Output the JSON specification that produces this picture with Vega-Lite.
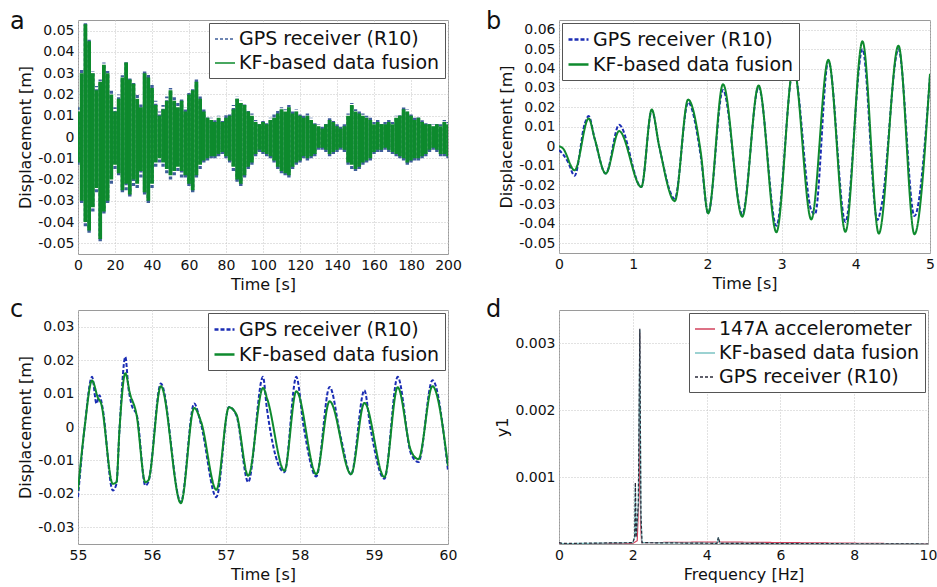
{
"$schema":"https://vega.github.io/schema/vega-lite/v6.json",
"padding":{"left":9,"top":9,"right":0,"bottom":0},
"config":{"font":"DejaVu Sans","view":{"stroke":"#9a9a9a","strokeWidth":1},
"axis":{"grid":true,"gridColor":"#c4c4c4","gridDash":[1,2],"domain":false,"tickSize":0,"labelFontSize":14,"titleFontSize":16,"titleFontWeight":"normal","labelColor":"#111","titleColor":"#111","labelPadding":4,"titlePadding":4,"labelFlush":false,"labelOverlap":false},
"title":{"fontSize":24,"fontWeight":"normal","anchor":"start","frame":"group","baseline":"alphabetic","color":"#111"},
"legend":{"title":null,"fillColor":"white","strokeColor":"#555","padding":5,"rowPadding":3,"labelFontSize":19,"labelColor":"#111","symbolType":"stroke","symbolSize":400,"offset":3,"labelOffset":3,"labelLimit":400}},
"datasets":{
"a":[
{"t":0,"kh":0.012,"kl":-0.012,"gh":0.014,"gl":-0.013},
{"t":2,"kh":0.030,"kl":-0.030,"gh":0.032,"gl":-0.031},
{"t":4,"kh":0.053,"kl":-0.040,"gh":0.054,"gl":-0.042},
{"t":6,"kh":0.045,"kl":-0.044,"gh":0.046,"gl":-0.045},
{"t":8,"kh":0.030,"kl":-0.033,"gh":0.031,"gl":-0.035},
{"t":10,"kh":0.022,"kl":-0.024,"gh":0.024,"gl":-0.026},
{"t":12,"kh":0.026,"kl":-0.048,"gh":0.027,"gl":-0.049},
{"t":14,"kh":0.034,"kl":-0.035,"gh":0.035,"gl":-0.036},
{"t":16,"kh":0.030,"kl":-0.030,"gh":0.031,"gl":-0.031},
{"t":18,"kh":0.020,"kl":-0.020,"gh":0.022,"gl":-0.022},
{"t":20,"kh":0.012,"kl":-0.013,"gh":0.014,"gl":-0.015},
{"t":22,"kh":0.018,"kl":-0.017,"gh":0.020,"gl":-0.018},
{"t":24,"kh":0.028,"kl":-0.025,"gh":0.029,"gl":-0.026},
{"t":26,"kh":0.035,"kl":-0.022,"gh":0.036,"gl":-0.025},
{"t":28,"kh":0.027,"kl":-0.027,"gh":0.028,"gl":-0.028},
{"t":30,"kh":0.025,"kl":-0.020,"gh":0.026,"gl":-0.023},
{"t":32,"kh":0.018,"kl":-0.022,"gh":0.020,"gl":-0.024},
{"t":34,"kh":0.014,"kl":-0.016,"gh":0.016,"gl":-0.019},
{"t":36,"kh":0.030,"kl":-0.026,"gh":0.031,"gl":-0.027},
{"t":38,"kh":0.028,"kl":-0.030,"gh":0.030,"gl":-0.031},
{"t":40,"kh":0.023,"kl":-0.022,"gh":0.025,"gl":-0.024},
{"t":42,"kh":0.015,"kl":-0.012,"gh":0.017,"gl":-0.014},
{"t":44,"kh":0.010,"kl":-0.010,"gh":0.012,"gl":-0.012},
{"t":46,"kh":0.013,"kl":-0.012,"gh":0.015,"gl":-0.014},
{"t":48,"kh":0.017,"kl":-0.015,"gh":0.019,"gl":-0.017},
{"t":50,"kh":0.022,"kl":-0.018,"gh":0.023,"gl":-0.020},
{"t":52,"kh":0.017,"kl":-0.016,"gh":0.019,"gl":-0.018},
{"t":54,"kh":0.014,"kl":-0.014,"gh":0.016,"gl":-0.016},
{"t":56,"kh":0.017,"kl":-0.016,"gh":0.018,"gl":-0.019},
{"t":58,"kh":0.012,"kl":-0.018,"gh":0.014,"gl":-0.019},
{"t":60,"kh":0.020,"kl":-0.022,"gh":0.021,"gl":-0.023},
{"t":62,"kh":0.022,"kl":-0.025,"gh":0.023,"gl":-0.026},
{"t":64,"kh":0.026,"kl":-0.018,"gh":0.027,"gl":-0.019},
{"t":66,"kh":0.018,"kl":-0.013,"gh":0.019,"gl":-0.015},
{"t":68,"kh":0.012,"kl":-0.011,"gh":0.013,"gl":-0.012},
{"t":70,"kh":0.009,"kl":-0.010,"gh":0.010,"gl":-0.011},
{"t":72,"kh":0.008,"kl":-0.009,"gh":0.009,"gl":-0.010},
{"t":74,"kh":0.007,"kl":-0.009,"gh":0.008,"gl":-0.010},
{"t":76,"kh":0.009,"kl":-0.008,"gh":0.010,"gl":-0.009},
{"t":78,"kh":0.007,"kl":-0.007,"gh":0.008,"gl":-0.008},
{"t":80,"kh":0.009,"kl":-0.009,"gh":0.011,"gl":-0.010},
{"t":82,"kh":0.010,"kl":-0.011,"gh":0.011,"gl":-0.012},
{"t":84,"kh":0.013,"kl":-0.014,"gh":0.015,"gl":-0.016},
{"t":86,"kh":0.018,"kl":-0.020,"gh":0.019,"gl":-0.021},
{"t":88,"kh":0.016,"kl":-0.022,"gh":0.017,"gl":-0.023},
{"t":90,"kh":0.015,"kl":-0.018,"gh":0.016,"gl":-0.019},
{"t":92,"kh":0.012,"kl":-0.014,"gh":0.013,"gl":-0.015},
{"t":94,"kh":0.010,"kl":-0.012,"gh":0.011,"gl":-0.013},
{"t":96,"kh":0.007,"kl":-0.008,"gh":0.008,"gl":-0.009},
{"t":98,"kh":0.006,"kl":-0.006,"gh":0.007,"gl":-0.007},
{"t":100,"kh":0.007,"kl":-0.007,"gh":0.008,"gl":-0.008},
{"t":102,"kh":0.006,"kl":-0.008,"gh":0.007,"gl":-0.009},
{"t":104,"kh":0.008,"kl":-0.009,"gh":0.009,"gl":-0.010},
{"t":106,"kh":0.009,"kl":-0.011,"gh":0.011,"gl":-0.012},
{"t":108,"kh":0.011,"kl":-0.014,"gh":0.013,"gl":-0.015},
{"t":110,"kh":0.013,"kl":-0.016,"gh":0.014,"gl":-0.017},
{"t":112,"kh":0.012,"kl":-0.017,"gh":0.013,"gl":-0.018},
{"t":114,"kh":0.014,"kl":-0.018,"gh":0.015,"gl":-0.019},
{"t":116,"kh":0.011,"kl":-0.014,"gh":0.012,"gl":-0.015},
{"t":118,"kh":0.012,"kl":-0.012,"gh":0.013,"gl":-0.013},
{"t":120,"kh":0.010,"kl":-0.011,"gh":0.011,"gl":-0.012},
{"t":122,"kh":0.009,"kl":-0.009,"gh":0.010,"gl":-0.010},
{"t":124,"kh":0.010,"kl":-0.010,"gh":0.011,"gl":-0.011},
{"t":126,"kh":0.008,"kl":-0.009,"gh":0.009,"gl":-0.010},
{"t":128,"kh":0.006,"kl":-0.008,"gh":0.007,"gl":-0.009},
{"t":130,"kh":0.005,"kl":-0.005,"gh":0.006,"gl":-0.006},
{"t":132,"kh":0.004,"kl":-0.005,"gh":0.005,"gl":-0.006},
{"t":134,"kh":0.006,"kl":-0.006,"gh":0.007,"gl":-0.007},
{"t":136,"kh":0.008,"kl":-0.008,"gh":0.009,"gl":-0.009},
{"t":138,"kh":0.007,"kl":-0.007,"gh":0.008,"gl":-0.008},
{"t":140,"kh":0.005,"kl":-0.006,"gh":0.006,"gl":-0.007},
{"t":142,"kh":0.004,"kl":-0.005,"gh":0.005,"gl":-0.006},
{"t":144,"kh":0.005,"kl":-0.006,"gh":0.006,"gl":-0.007},
{"t":146,"kh":0.010,"kl":-0.012,"gh":0.011,"gl":-0.013},
{"t":148,"kh":0.015,"kl":-0.013,"gh":0.016,"gl":-0.015},
{"t":150,"kh":0.012,"kl":-0.015,"gh":0.013,"gl":-0.016},
{"t":152,"kh":0.011,"kl":-0.014,"gh":0.012,"gl":-0.015},
{"t":154,"kh":0.010,"kl":-0.012,"gh":0.011,"gl":-0.013},
{"t":156,"kh":0.009,"kl":-0.011,"gh":0.010,"gl":-0.012},
{"t":158,"kh":0.008,"kl":-0.010,"gh":0.009,"gl":-0.011},
{"t":160,"kh":0.006,"kl":-0.007,"gh":0.007,"gl":-0.008},
{"t":162,"kh":0.007,"kl":-0.006,"gh":0.008,"gl":-0.007},
{"t":164,"kh":0.006,"kl":-0.006,"gh":0.007,"gl":-0.007},
{"t":166,"kh":0.006,"kl":-0.005,"gh":0.007,"gl":-0.006},
{"t":168,"kh":0.007,"kl":-0.006,"gh":0.008,"gl":-0.007},
{"t":170,"kh":0.006,"kl":-0.007,"gh":0.007,"gl":-0.008},
{"t":172,"kh":0.009,"kl":-0.008,"gh":0.010,"gl":-0.009},
{"t":174,"kh":0.010,"kl":-0.009,"gh":0.011,"gl":-0.010},
{"t":176,"kh":0.013,"kl":-0.010,"gh":0.014,"gl":-0.011},
{"t":178,"kh":0.012,"kl":-0.012,"gh":0.013,"gl":-0.013},
{"t":180,"kh":0.010,"kl":-0.011,"gh":0.011,"gl":-0.012},
{"t":182,"kh":0.008,"kl":-0.010,"gh":0.009,"gl":-0.011},
{"t":184,"kh":0.009,"kl":-0.010,"gh":0.010,"gl":-0.011},
{"t":186,"kh":0.007,"kl":-0.009,"gh":0.008,"gl":-0.010},
{"t":188,"kh":0.006,"kl":-0.008,"gh":0.007,"gl":-0.009},
{"t":190,"kh":0.006,"kl":-0.006,"gh":0.007,"gl":-0.007},
{"t":192,"kh":0.005,"kl":-0.005,"gh":0.006,"gl":-0.006},
{"t":194,"kh":0.006,"kl":-0.006,"gh":0.007,"gl":-0.007},
{"t":196,"kh":0.005,"kl":-0.008,"gh":0.006,"gl":-0.009},
{"t":198,"kh":0.007,"kl":-0.008,"gh":0.008,"gl":-0.009},
{"t":200,"kh":0.006,"kl":-0.009,"gh":0.007,"gl":-0.010}
],
"b":[
{"s":"GPS receiver (R10)","t":0,"v":-0.002},{"s":"GPS receiver (R10)","t":0.05,"v":-0.004},{"s":"GPS receiver (R10)","t":0.12,"v":-0.008},{"s":"GPS receiver (R10)","t":0.21,"v":-0.0152},{"s":"GPS receiver (R10)","t":0.35,"v":0.012},{"s":"GPS receiver (R10)","t":0.40,"v":0.0155},{"s":"GPS receiver (R10)","t":0.48,"v":0.004},{"s":"GPS receiver (R10)","t":0.63,"v":-0.0141},{"s":"GPS receiver (R10)","t":0.81,"v":0.011},{"s":"GPS receiver (R10)","t":1.11,"v":-0.021},{"s":"GPS receiver (R10)","t":1.25,"v":0.0185},{"s":"GPS receiver (R10)","t":1.35,"v":0.0},{"s":"GPS receiver (R10)","t":1.56,"v":-0.027},{"s":"GPS receiver (R10)","t":1.74,"v":0.0225},{"s":"GPS receiver (R10)","t":1.91,"v":-0.005},{"s":"GPS receiver (R10)","t":2.01,"v":-0.0345},{"s":"GPS receiver (R10)","t":2.21,"v":0.029},{"s":"GPS receiver (R10)","t":2.47,"v":-0.035},{"s":"GPS receiver (R10)","t":2.69,"v":0.0305},{"s":"GPS receiver (R10)","t":2.93,"v":-0.041},{"s":"GPS receiver (R10)","t":3.16,"v":0.04},{"s":"GPS receiver (R10)","t":3.40,"v":-0.033},{"s":"GPS receiver (R10)","t":3.45,"v":-0.035},{"s":"GPS receiver (R10)","t":3.63,"v":0.044},{"s":"GPS receiver (R10)","t":3.86,"v":-0.039},{"s":"GPS receiver (R10)","t":4.09,"v":0.05},{"s":"GPS receiver (R10)","t":4.29,"v":-0.038},{"s":"GPS receiver (R10)","t":4.35,"v":-0.030},{"s":"GPS receiver (R10)","t":4.575,"v":0.05},{"s":"GPS receiver (R10)","t":4.79,"v":-0.036},{"s":"GPS receiver (R10)","t":5.0,"v":0.036},
{"s":"KF-based data fusion","t":0,"v":0.0},{"s":"KF-based data fusion","t":0.05,"v":-0.001},{"s":"KF-based data fusion","t":0.21,"v":-0.0124},{"s":"KF-based data fusion","t":0.40,"v":0.0143},{"s":"KF-based data fusion","t":0.48,"v":0.004},{"s":"KF-based data fusion","t":0.63,"v":-0.0141},{"s":"KF-based data fusion","t":0.81,"v":0.0078},{"s":"KF-based data fusion","t":1.11,"v":-0.021},{"s":"KF-based data fusion","t":1.25,"v":0.0189},{"s":"KF-based data fusion","t":1.35,"v":0.0},{"s":"KF-based data fusion","t":1.56,"v":-0.0283},{"s":"KF-based data fusion","t":1.74,"v":0.024},{"s":"KF-based data fusion","t":1.91,"v":-0.003},{"s":"KF-based data fusion","t":2.01,"v":-0.0346},{"s":"KF-based data fusion","t":2.21,"v":0.0319},{"s":"KF-based data fusion","t":2.47,"v":-0.0363},{"s":"KF-based data fusion","t":2.69,"v":0.0313},{"s":"KF-based data fusion","t":2.93,"v":-0.0443},{"s":"KF-based data fusion","t":3.16,"v":0.041},{"s":"KF-based data fusion","t":3.40,"v":-0.0377},{"s":"KF-based data fusion","t":3.63,"v":0.0445},{"s":"KF-based data fusion","t":3.86,"v":-0.0441},{"s":"KF-based data fusion","t":4.09,"v":0.054},{"s":"KF-based data fusion","t":4.31,"v":-0.045},{"s":"KF-based data fusion","t":4.575,"v":0.0518},{"s":"KF-based data fusion","t":4.79,"v":-0.0453},{"s":"KF-based data fusion","t":5.0,"v":0.0373}
],
"c":[
{"s":"GPS receiver (R10)","t":55.0,"v":-0.021},{"s":"GPS receiver (R10)","t":55.09,"v":0.0},{"s":"GPS receiver (R10)","t":55.19,"v":0.015},{"s":"GPS receiver (R10)","t":55.25,"v":0.007},{"s":"GPS receiver (R10)","t":55.29,"v":0.0095},{"s":"GPS receiver (R10)","t":55.33,"v":0.006},{"s":"GPS receiver (R10)","t":55.47,"v":-0.019},{"s":"GPS receiver (R10)","t":55.52,"v":-0.017},{"s":"GPS receiver (R10)","t":55.56,"v":-0.001},{"s":"GPS receiver (R10)","t":55.64,"v":0.021},{"s":"GPS receiver (R10)","t":55.68,"v":0.012},{"s":"GPS receiver (R10)","t":55.72,"v":0.007},{"s":"GPS receiver (R10)","t":55.80,"v":0.003},{"s":"GPS receiver (R10)","t":55.91,"v":-0.0175},{"s":"GPS receiver (R10)","t":55.95,"v":-0.0165},{"s":"GPS receiver (R10)","t":56.12,"v":0.013},{"s":"GPS receiver (R10)","t":56.39,"v":-0.0225},{"s":"GPS receiver (R10)","t":56.57,"v":0.007},{"s":"GPS receiver (R10)","t":56.66,"v":0.001},{"s":"GPS receiver (R10)","t":56.87,"v":-0.021},{"s":"GPS receiver (R10)","t":57.04,"v":0.006},{"s":"GPS receiver (R10)","t":57.14,"v":0.0035},{"s":"GPS receiver (R10)","t":57.30,"v":-0.0165},{"s":"GPS receiver (R10)","t":57.50,"v":0.015},{"s":"GPS receiver (R10)","t":57.55,"v":0.006},{"s":"GPS receiver (R10)","t":57.79,"v":-0.0135},{"s":"GPS receiver (R10)","t":57.95,"v":0.015},{"s":"GPS receiver (R10)","t":58.05,"v":0.0},{"s":"GPS receiver (R10)","t":58.22,"v":-0.0148},{"s":"GPS receiver (R10)","t":58.40,"v":0.012},{"s":"GPS receiver (R10)","t":58.55,"v":-0.003},{"s":"GPS receiver (R10)","t":58.69,"v":-0.0142},{"s":"GPS receiver (R10)","t":58.87,"v":0.011},{"s":"GPS receiver (R10)","t":58.95,"v":0.0},{"s":"GPS receiver (R10)","t":59.14,"v":-0.0155},{"s":"GPS receiver (R10)","t":59.32,"v":0.015},{"s":"GPS receiver (R10)","t":59.50,"v":-0.008},{"s":"GPS receiver (R10)","t":59.60,"v":-0.0105},{"s":"GPS receiver (R10)","t":59.79,"v":0.014},{"s":"GPS receiver (R10)","t":60.0,"v":-0.013},
{"s":"KF-based data fusion","t":55.0,"v":-0.019},{"s":"KF-based data fusion","t":55.09,"v":0.0},{"s":"KF-based data fusion","t":55.19,"v":0.0139},{"s":"KF-based data fusion","t":55.27,"v":0.0087},{"s":"KF-based data fusion","t":55.31,"v":0.0072},{"s":"KF-based data fusion","t":55.47,"v":-0.017},{"s":"KF-based data fusion","t":55.52,"v":-0.0165},{"s":"KF-based data fusion","t":55.56,"v":-0.001},{"s":"KF-based data fusion","t":55.64,"v":0.0161},{"s":"KF-based data fusion","t":55.70,"v":0.0102},{"s":"KF-based data fusion","t":55.79,"v":0.0038},{"s":"KF-based data fusion","t":55.91,"v":-0.0165},{"s":"KF-based data fusion","t":55.95,"v":-0.016},{"s":"KF-based data fusion","t":56.12,"v":0.0122},{"s":"KF-based data fusion","t":56.39,"v":-0.0228},{"s":"KF-based data fusion","t":56.57,"v":0.0057},{"s":"KF-based data fusion","t":56.66,"v":0.0018},{"s":"KF-based data fusion","t":56.87,"v":-0.0188},{"s":"KF-based data fusion","t":57.04,"v":0.0059},{"s":"KF-based data fusion","t":57.14,"v":0.0038},{"s":"KF-based data fusion","t":57.30,"v":-0.0146},{"s":"KF-based data fusion","t":57.50,"v":0.0117},{"s":"KF-based data fusion","t":57.56,"v":0.0082},{"s":"KF-based data fusion","t":57.79,"v":-0.0131},{"s":"KF-based data fusion","t":57.95,"v":0.0107},{"s":"KF-based data fusion","t":58.22,"v":-0.0141},{"s":"KF-based data fusion","t":58.40,"v":0.0077},{"s":"KF-based data fusion","t":58.69,"v":-0.0141},{"s":"KF-based data fusion","t":58.87,"v":0.0072},{"s":"KF-based data fusion","t":59.14,"v":-0.015},{"s":"KF-based data fusion","t":59.32,"v":0.0119},{"s":"KF-based data fusion","t":59.50,"v":-0.0071},{"s":"KF-based data fusion","t":59.60,"v":-0.0096},{"s":"KF-based data fusion","t":59.79,"v":0.0122},{"s":"KF-based data fusion","t":60.0,"v":-0.0116}
],
"d":[
{"s":"147A accelerometer","f":0,"v":0.00001},{"s":"147A accelerometer","f":0.1,"v":0.000005},{"s":"147A accelerometer","f":2.0,"v":0.00001},{"s":"147A accelerometer","f":2.12,"v":0.00005},{"s":"147A accelerometer","f":2.17,"v":0.0008},{"s":"147A accelerometer","f":2.19,"v":0.00316},{"s":"147A accelerometer","f":2.21,"v":0.0003},{"s":"147A accelerometer","f":2.24,"v":0.00002},{"s":"147A accelerometer","f":4.3,"v":0.00003},{"s":"147A accelerometer","f":10,"v":0.000002},
{"s":"KF-based data fusion","f":0,"v":0.00002},{"s":"KF-based data fusion","f":0.1,"v":0.000005},{"s":"KF-based data fusion","f":2.0,"v":0.00002},{"s":"KF-based data fusion","f":2.05,"v":0.0001},{"s":"KF-based data fusion","f":2.07,"v":0.0009},{"s":"KF-based data fusion","f":2.09,"v":0.0001},{"s":"KF-based data fusion","f":2.15,"v":0.0006},{"s":"KF-based data fusion","f":2.19,"v":0.0032},{"s":"KF-based data fusion","f":2.22,"v":0.00045},{"s":"KF-based data fusion","f":2.25,"v":0.00002},{"s":"KF-based data fusion","f":4.28,"v":0.00001},{"s":"KF-based data fusion","f":4.32,"v":0.0001},{"s":"KF-based data fusion","f":4.36,"v":0.00001},{"s":"KF-based data fusion","f":10,"v":0.0},
{"s":"GPS receiver (R10)","f":0,"v":0.00002},{"s":"GPS receiver (R10)","f":0.1,"v":0.000008},{"s":"GPS receiver (R10)","f":2.0,"v":0.00002},{"s":"GPS receiver (R10)","f":2.05,"v":0.0001},{"s":"GPS receiver (R10)","f":2.07,"v":0.00092},{"s":"GPS receiver (R10)","f":2.09,"v":0.0001},{"s":"GPS receiver (R10)","f":2.15,"v":0.0006},{"s":"GPS receiver (R10)","f":2.19,"v":0.00322},{"s":"GPS receiver (R10)","f":2.22,"v":0.00045},{"s":"GPS receiver (R10)","f":2.25,"v":0.00002},{"s":"GPS receiver (R10)","f":4.28,"v":0.00001},{"s":"GPS receiver (R10)","f":4.32,"v":0.0001},{"s":"GPS receiver (R10)","f":4.36,"v":0.00001},{"s":"GPS receiver (R10)","f":10,"v":0.0}
]
},
"columns":2,
"spacing":{"row":4,"column":23},
"resolve":{"scale":{"color":"independent","strokeDash":"independent","x":"independent","y":"independent"},"legend":{"color":"independent","strokeDash":"independent"}},
"concat":[
{"title":{"text":"a","dx":-68,"offset":-14},"width":370,"height":234,"data":{"name":"a"},
"encoding":{
"x":{"field":"t","type":"quantitative","scale":{"domain":[0,200],"nice":false},"axis":{"values":[0,20,40,60,80,100,120,140,160,180,200],"labelOverlap":false,"title":"Time [s]"}}},
"layer":[
{"mark":{"type":"rule","strokeWidth":3.4,"clip":true},
"encoding":{
"y":{"field":"gl","type":"quantitative","scale":{"domain":[-0.055,0.055],"nice":false},"axis":{"values":[-0.05,-0.04,-0.03,-0.02,-0.01,0,0.01,0.02,0.03,0.04,0.05],"labelOverlap":false,"labelExpr":"replace(format(datum.value,'~g'),'\u2212','-')","title":"Displacement [m]"}},
"y2":{"field":"gh"},
"color":{"datum":"GPS receiver (R10)","type":"nominal","scale":{"domain":["GPS receiver (R10)","KF-based data fusion"],"range":["#3f5f9a","#0d8a2d"]},"legend":{"orient":"top-right","symbolStrokeWidth":1.3}},
"strokeDash":{"datum":"GPS receiver (R10)","type":"nominal","scale":{"domain":["GPS receiver (R10)","KF-based data fusion"],"range":[[3,2],[1,0]]},"legend":{"orient":"top-right","symbolStrokeWidth":1.3}}}},
{"mark":{"type":"rule","strokeWidth":3.8,"clip":true},
"encoding":{
"y":{"field":"kl","type":"quantitative","axis":{"values":[-0.05,-0.04,-0.03,-0.02,-0.01,0,0.01,0.02,0.03,0.04,0.05],"labelOverlap":false,"labelExpr":"replace(format(datum.value,'~g'),'\u2212','-')","title":"Displacement [m]"}},
"y2":{"field":"kh"},
"color":{"datum":"KF-based data fusion","type":"nominal"},
"strokeDash":{"datum":"KF-based data fusion","type":"nominal"}}}
]},
{"title":{"text":"b","dx":-73,"offset":-14},"width":371,"height":233,"data":{"name":"b"},
"mark":{"type":"line","interpolate":"monotone","strokeWidth":2,"clip":true},
"encoding":{
"x":{"field":"t","type":"quantitative","scale":{"domain":[0,5],"nice":false},"axis":{"values":[0,1,2,3,4,5],"title":"Time [s]"}},
"y":{"field":"v","type":"quantitative","scale":{"domain":[-0.055,0.065],"nice":false},"axis":{"values":[-0.05,-0.04,-0.03,-0.02,-0.01,0,0.01,0.02,0.03,0.04,0.05,0.06],"labelExpr":"replace(format(datum.value,'~g'),'\u2212','-')","title":"Displacement [m]"}},
"color":{"field":"s","type":"nominal","sort":null,"scale":{"domain":["GPS receiver (R10)","KF-based data fusion"],"range":["#1b2db4","#0e8a2e"]},"legend":{"orient":"top-left","symbolStrokeWidth":2.5}},
"strokeDash":{"field":"s","type":"nominal","sort":null,"scale":{"domain":["GPS receiver (R10)","KF-based data fusion"],"range":[[4,2],[1,0]]},"legend":{"orient":"top-left","symbolStrokeWidth":2.5}}}},
{"title":{"text":"c","dx":-68,"offset":-12},"width":370,"height":234,"data":{"name":"c"},
"mark":{"type":"line","interpolate":"monotone","strokeWidth":2,"clip":true},
"encoding":{
"x":{"field":"t","type":"quantitative","scale":{"domain":[55,60],"nice":false},"axis":{"values":[55,56,57,58,59,60],"title":"Time [s]"}},
"y":{"field":"v","type":"quantitative","scale":{"domain":[-0.035,0.035],"nice":false},"axis":{"values":[-0.03,-0.02,-0.01,0,0.01,0.02,0.03],"labelExpr":"replace(format(datum.value,'~g'),'\u2212','-')","title":"Displacement [m]"}},
"color":{"field":"s","type":"nominal","sort":null,"scale":{"domain":["GPS receiver (R10)","KF-based data fusion"],"range":["#1b2db4","#0e8a2e"]},"legend":{"orient":"top-right","symbolStrokeWidth":2.5}},
"strokeDash":{"field":"s","type":"nominal","sort":null,"scale":{"domain":["GPS receiver (R10)","KF-based data fusion"],"range":[[4,2],[1,0]]},"legend":{"orient":"top-right","symbolStrokeWidth":2.5}}}},
{"title":{"text":"d","dx":-73,"offset":-12},"width":369,"height":234,"data":{"name":"d"},
"mark":{"type":"line","strokeWidth":1.2,"clip":true},
"encoding":{
"x":{"field":"f","type":"quantitative","scale":{"domain":[0,10],"nice":false},"axis":{"values":[0,2,4,6,8,10],"title":"Frequency [Hz]"}},
"y":{"field":"v","type":"quantitative","scale":{"domain":[0,0.0035],"nice":false},"axis":{"values":[0.001,0.002,0.003],"format":"~g","title":"y1"}},
"color":{"field":"s","type":"nominal","sort":null,"scale":{"domain":["147A accelerometer","KF-based data fusion","GPS receiver (R10)"],"range":["#d2435e","#7cc4c4","#2a2a3a"]},"legend":{"orient":"top-right","symbolStrokeWidth":1.6}},
"strokeDash":{"field":"s","type":"nominal","sort":null,"scale":{"domain":["147A accelerometer","KF-based data fusion","GPS receiver (R10)"],"range":[[1,0],[1,0],[3,2]]},"legend":{"orient":"top-right","symbolStrokeWidth":1.6}}}}
]
}
